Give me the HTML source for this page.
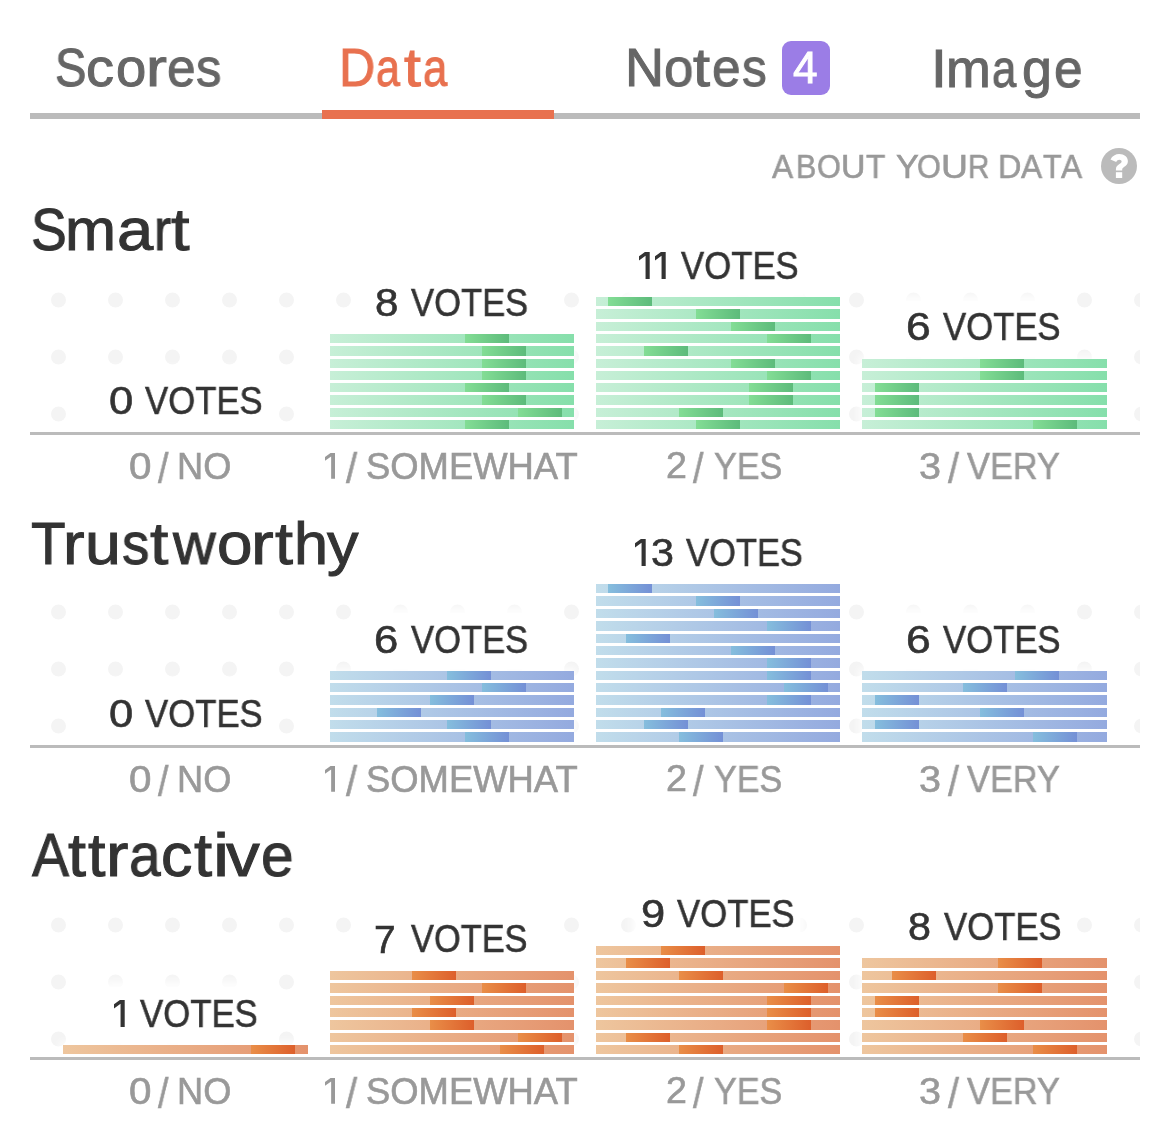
<!DOCTYPE html>
<html><head><meta charset="utf-8"><style>
html,body{margin:0;padding:0;background:#fff;}
body{width:1170px;height:1147px;position:relative;overflow:hidden;font-family:"Liberation Sans", sans-serif;}
.t{position:absolute;white-space:pre;transform-origin:0 0;will-change:transform;}
.r{position:absolute;}
</style></head>
<body>
<div class="t" style="left:54.62px;top:40.82px;font-size:53.77px;line-height:53.77px;color:#666666;transform:scaleX(0.8745);-webkit-text-stroke:1.0px currentColor;">S</div>
<div class="t" style="left:86.33px;top:40.82px;font-size:53.77px;line-height:53.77px;color:#666666;transform:scaleX(1.0424);-webkit-text-stroke:1.0px currentColor;">c</div>
<div class="t" style="left:116.40px;top:40.82px;font-size:53.77px;line-height:53.77px;color:#666666;transform:scaleX(1.0130);-webkit-text-stroke:1.0px currentColor;">o</div>
<div class="t" style="left:145.68px;top:40.82px;font-size:53.77px;line-height:53.77px;color:#666666;transform:scaleX(1.1680);-webkit-text-stroke:1.0px currentColor;">r</div>
<div class="t" style="left:167.22px;top:40.82px;font-size:53.77px;line-height:53.77px;color:#666666;transform:scaleX(0.9537);-webkit-text-stroke:1.0px currentColor;">e</div>
<div class="t" style="left:196.25px;top:40.82px;font-size:53.77px;line-height:53.77px;color:#666666;transform:scaleX(0.9429);-webkit-text-stroke:1.0px currentColor;">s</div>
<div class="t" style="left:338.66px;top:41.06px;font-size:53.77px;line-height:53.77px;color:#e8714f;transform:scaleX(0.9331);-webkit-text-stroke:1.0px currentColor;">D</div>
<div class="t" style="left:376.32px;top:41.06px;font-size:53.77px;line-height:53.77px;color:#e8714f;transform:scaleX(0.8000);-webkit-text-stroke:1.0px currentColor;">a</div>
<div class="t" style="left:404.36px;top:41.06px;font-size:53.77px;line-height:53.77px;color:#e8714f;transform:scaleX(1.1308);-webkit-text-stroke:1.0px currentColor;">t</div>
<div class="t" style="left:422.92px;top:41.06px;font-size:53.77px;line-height:53.77px;color:#e8714f;transform:scaleX(0.8155);-webkit-text-stroke:1.0px currentColor;">a</div>
<div class="t" style="left:624.65px;top:41.06px;font-size:53.77px;line-height:53.77px;color:#666666;transform:scaleX(1.0063);-webkit-text-stroke:1.0px currentColor;">N</div>
<div class="t" style="left:663.76px;top:41.06px;font-size:53.77px;line-height:53.77px;color:#666666;transform:scaleX(0.9814);-webkit-text-stroke:1.0px currentColor;">o</div>
<div class="t" style="left:693.35px;top:41.06px;font-size:53.77px;line-height:53.77px;color:#666666;transform:scaleX(1.1382);-webkit-text-stroke:1.0px currentColor;">t</div>
<div class="t" style="left:712.42px;top:41.06px;font-size:53.77px;line-height:53.77px;color:#666666;transform:scaleX(0.9537);-webkit-text-stroke:1.0px currentColor;">e</div>
<div class="t" style="left:742.39px;top:41.06px;font-size:53.77px;line-height:53.77px;color:#666666;transform:scaleX(0.9213);-webkit-text-stroke:1.0px currentColor;">s</div>
<div class="t" style="left:930.94px;top:41.68px;font-size:53.77px;line-height:53.77px;color:#666666;transform:scaleX(1.0601);-webkit-text-stroke:1.0px currentColor;">I</div>
<div class="t" style="left:946.01px;top:41.68px;font-size:53.77px;line-height:53.77px;color:#666666;transform:scaleX(0.9990);-webkit-text-stroke:1.0px currentColor;">m</div>
<div class="t" style="left:992.42px;top:41.68px;font-size:53.77px;line-height:53.77px;color:#666666;transform:scaleX(0.8155);-webkit-text-stroke:1.0px currentColor;">a</div>
<div class="t" style="left:1021.62px;top:41.68px;font-size:53.77px;line-height:53.77px;color:#666666;transform:scaleX(1.0002);-webkit-text-stroke:1.0px currentColor;">g</div>
<div class="t" style="left:1053.52px;top:41.68px;font-size:53.77px;line-height:53.77px;color:#666666;transform:scaleX(0.9537);-webkit-text-stroke:1.0px currentColor;">e</div>
<div class="r" style="left:782px;top:41px;width:48px;height:54px;border-radius:9px;background:#9b7de6"></div>
<div class="t" style="left:793.42px;top:45.79px;font-size:43.82px;line-height:43.82px;color:#ffffff;transform:scaleX(1.0067);-webkit-text-stroke:1.0px currentColor;">4</div>
<div class="r" style="left:30px;top:113px;width:1110px;height:6px;background:#bbbbbb"></div>
<div class="r" style="left:322px;top:110px;width:232px;height:9px;background:#e8714f"></div>
<div class="t" style="left:772.02px;top:150.33px;font-size:33.91px;line-height:33.91px;color:#999999;transform:scaleX(0.9338);-webkit-text-stroke:0.6px currentColor;">A</div>
<div class="t" style="left:795.59px;top:150.33px;font-size:33.91px;line-height:33.91px;color:#999999;transform:scaleX(0.8957);-webkit-text-stroke:0.6px currentColor;">B</div>
<div class="t" style="left:816.98px;top:150.33px;font-size:33.91px;line-height:33.91px;color:#999999;transform:scaleX(0.9063);-webkit-text-stroke:0.6px currentColor;">O</div>
<div class="t" style="left:841.12px;top:150.33px;font-size:33.91px;line-height:33.91px;color:#999999;transform:scaleX(0.9952);-webkit-text-stroke:0.6px currentColor;">U</div>
<div class="t" style="left:866.48px;top:150.33px;font-size:33.91px;line-height:33.91px;color:#999999;transform:scaleX(0.9363);-webkit-text-stroke:0.6px currentColor;">T</div>
<div class="t" style="left:896.05px;top:150.33px;font-size:33.91px;line-height:33.91px;color:#999999;transform:scaleX(1.0103);-webkit-text-stroke:0.6px currentColor;">Y</div>
<div class="t" style="left:917.34px;top:150.33px;font-size:33.91px;line-height:33.91px;color:#999999;transform:scaleX(0.9063);-webkit-text-stroke:0.6px currentColor;">O</div>
<div class="t" style="left:941.19px;top:150.33px;font-size:33.91px;line-height:33.91px;color:#999999;transform:scaleX(1.1005);-webkit-text-stroke:0.6px currentColor;">U</div>
<div class="t" style="left:967.81px;top:150.33px;font-size:33.91px;line-height:33.91px;color:#999999;transform:scaleX(0.8746);-webkit-text-stroke:0.6px currentColor;">R</div>
<div class="t" style="left:997.98px;top:150.33px;font-size:33.91px;line-height:33.91px;color:#999999;transform:scaleX(0.9546);-webkit-text-stroke:0.6px currentColor;">D</div>
<div class="t" style="left:1021.27px;top:150.33px;font-size:33.91px;line-height:33.91px;color:#999999;transform:scaleX(0.9338);-webkit-text-stroke:0.6px currentColor;">A</div>
<div class="t" style="left:1042.56px;top:150.33px;font-size:33.91px;line-height:33.91px;color:#999999;transform:scaleX(0.9053);-webkit-text-stroke:0.6px currentColor;">T</div>
<div class="t" style="left:1060.97px;top:150.33px;font-size:33.91px;line-height:33.91px;color:#999999;transform:scaleX(0.9338);-webkit-text-stroke:0.6px currentColor;">A</div>
<svg class="r" style="left:1101px;top:148px" width="36" height="36" viewBox="0 0 36 36"><circle cx="18" cy="18" r="18" fill="#bbbbbb"/><path d="M9.5 11.6 C11.2 8 14.6 6.1 18.3 6.1 C23.2 6.1 26.9 9 26.9 13.3 C26.9 16.4 25 17.8 23 19.1 C21.7 20 21.2 20.7 21.2 21.9 L21.2 22.6 L14.9 22.6 L14.9 21.4 C14.9 18.8 16.3 17.4 18.1 16.3 C19.6 15.4 20.6 14.8 20.6 13.6 C20.6 12.4 19.6 11.7 18.3 11.7 C17 11.7 15.9 12.5 15.2 13.9 Z" fill="#ffffff"/><rect x="14.9" y="24.2" width="6.3" height="5.8" fill="#ffffff"/></svg>
<div class="t" style="left:30.60px;top:200.40px;font-size:60.14px;line-height:60.14px;color:#333333;transform:scaleX(0.8897);-webkit-text-stroke:1.0px currentColor;">S</div>
<div class="t" style="left:64.88px;top:200.40px;font-size:60.14px;line-height:60.14px;color:#333333;transform:scaleX(1.0190);-webkit-text-stroke:1.0px currentColor;">m</div>
<div class="t" style="left:117.47px;top:200.40px;font-size:60.14px;line-height:60.14px;color:#333333;transform:scaleX(1.0839);-webkit-text-stroke:1.0px currentColor;">a</div>
<div class="t" style="left:153.86px;top:200.40px;font-size:60.14px;line-height:60.14px;color:#333333;transform:scaleX(0.8579);-webkit-text-stroke:1.0px currentColor;">r</div>
<div class="t" style="left:171.04px;top:200.40px;font-size:60.14px;line-height:60.14px;color:#333333;transform:scaleX(1.1107);-webkit-text-stroke:1.0px currentColor;">t</div>
<svg class="r" style="left:30px;top:292.20px" width="1110" height="130" viewBox="0 0 1110 130"><circle cx="28.5" cy="8" r="7.5" fill="#f4f4f4"/><circle cx="85.5" cy="8" r="7.5" fill="#f4f4f4"/><circle cx="142.5" cy="8" r="7.5" fill="#f4f4f4"/><circle cx="199.5" cy="8" r="7.5" fill="#f4f4f4"/><circle cx="256.5" cy="8" r="7.5" fill="#f4f4f4"/><circle cx="313.5" cy="8" r="7.5" fill="#f4f4f4"/><circle cx="370.5" cy="8" r="7.5" fill="#f4f4f4"/><circle cx="427.5" cy="8" r="7.5" fill="#f4f4f4"/><circle cx="484.5" cy="8" r="7.5" fill="#f4f4f4"/><circle cx="541.5" cy="8" r="7.5" fill="#f4f4f4"/><circle cx="598.5" cy="8" r="7.5" fill="#f4f4f4"/><circle cx="655.5" cy="8" r="7.5" fill="#f4f4f4"/><circle cx="712.5" cy="8" r="7.5" fill="#f4f4f4"/><circle cx="769.5" cy="8" r="7.5" fill="#f4f4f4"/><circle cx="826.5" cy="8" r="7.5" fill="#f4f4f4"/><circle cx="883.5" cy="8" r="7.5" fill="#f4f4f4"/><circle cx="940.5" cy="8" r="7.5" fill="#f4f4f4"/><circle cx="997.5" cy="8" r="7.5" fill="#f4f4f4"/><circle cx="1054.5" cy="8" r="7.5" fill="#f4f4f4"/><circle cx="1111.5" cy="8" r="7.5" fill="#f4f4f4"/><circle cx="28.5" cy="65" r="7.5" fill="#f4f4f4"/><circle cx="85.5" cy="65" r="7.5" fill="#f4f4f4"/><circle cx="142.5" cy="65" r="7.5" fill="#f4f4f4"/><circle cx="199.5" cy="65" r="7.5" fill="#f4f4f4"/><circle cx="256.5" cy="65" r="7.5" fill="#f4f4f4"/><circle cx="313.5" cy="65" r="7.5" fill="#f4f4f4"/><circle cx="370.5" cy="65" r="7.5" fill="#f4f4f4"/><circle cx="427.5" cy="65" r="7.5" fill="#f4f4f4"/><circle cx="484.5" cy="65" r="7.5" fill="#f4f4f4"/><circle cx="541.5" cy="65" r="7.5" fill="#f4f4f4"/><circle cx="598.5" cy="65" r="7.5" fill="#f4f4f4"/><circle cx="655.5" cy="65" r="7.5" fill="#f4f4f4"/><circle cx="712.5" cy="65" r="7.5" fill="#f4f4f4"/><circle cx="769.5" cy="65" r="7.5" fill="#f4f4f4"/><circle cx="826.5" cy="65" r="7.5" fill="#f4f4f4"/><circle cx="883.5" cy="65" r="7.5" fill="#f4f4f4"/><circle cx="940.5" cy="65" r="7.5" fill="#f4f4f4"/><circle cx="997.5" cy="65" r="7.5" fill="#f4f4f4"/><circle cx="1054.5" cy="65" r="7.5" fill="#f4f4f4"/><circle cx="1111.5" cy="65" r="7.5" fill="#f4f4f4"/><circle cx="28.5" cy="122" r="7.5" fill="#f4f4f4"/><circle cx="85.5" cy="122" r="7.5" fill="#f4f4f4"/><circle cx="142.5" cy="122" r="7.5" fill="#f4f4f4"/><circle cx="199.5" cy="122" r="7.5" fill="#f4f4f4"/><circle cx="256.5" cy="122" r="7.5" fill="#f4f4f4"/><circle cx="313.5" cy="122" r="7.5" fill="#f4f4f4"/><circle cx="370.5" cy="122" r="7.5" fill="#f4f4f4"/><circle cx="427.5" cy="122" r="7.5" fill="#f4f4f4"/><circle cx="484.5" cy="122" r="7.5" fill="#f4f4f4"/><circle cx="541.5" cy="122" r="7.5" fill="#f4f4f4"/><circle cx="598.5" cy="122" r="7.5" fill="#f4f4f4"/><circle cx="655.5" cy="122" r="7.5" fill="#f4f4f4"/><circle cx="712.5" cy="122" r="7.5" fill="#f4f4f4"/><circle cx="769.5" cy="122" r="7.5" fill="#f4f4f4"/><circle cx="826.5" cy="122" r="7.5" fill="#f4f4f4"/><circle cx="883.5" cy="122" r="7.5" fill="#f4f4f4"/><circle cx="940.5" cy="122" r="7.5" fill="#f4f4f4"/><circle cx="997.5" cy="122" r="7.5" fill="#f4f4f4"/><circle cx="1054.5" cy="122" r="7.5" fill="#f4f4f4"/><circle cx="1111.5" cy="122" r="7.5" fill="#f4f4f4"/></svg>
<div class="r" style="left:104.00px;top:374.30px;width:162.80px;height:56.20px;background:#fff;box-shadow:0 0 10px 5px #fff"></div>
<div class="r" style="left:370.20px;top:276.20px;width:162.30px;height:56.20px;background:#fff;box-shadow:0 0 10px 5px #fff"></div>
<div class="r" style="left:632.00px;top:239.30px;width:170.90px;height:56.20px;background:#fff;box-shadow:0 0 10px 5px #fff"></div>
<div class="r" style="left:902.70px;top:300.80px;width:163.00px;height:56.20px;background:#fff;box-shadow:0 0 10px 5px #fff"></div>
<div class="t" style="left:108.91px;top:381.61px;font-size:38.87px;line-height:38.87px;color:#333333;transform:scaleX(1.1201);-webkit-text-stroke:0.6px currentColor;">0</div>
<div class="t" style="left:144.97px;top:381.61px;font-size:38.87px;line-height:38.87px;color:#333333;transform:scaleX(0.8930);-webkit-text-stroke:0.6px currentColor;">VOTES</div>
<div class="r" style="left:330px;top:333.90px;width:244px;height:95.50px;background:#fff;box-shadow:0 0 8px 3px rgba(255,255,255,0.9)"></div>
<div class="r" style="left:330px;top:333.90px;width:244px;height:9.4px;background:linear-gradient(90deg,#c7efd7,#86dfab)"><div class="r" style="left:134.89px;top:0;width:44px;height:100%;background:linear-gradient(90deg,#83dd95,#5dbb7b)"></div></div>
<div class="r" style="left:330px;top:346.20px;width:244px;height:9.4px;background:linear-gradient(90deg,#c7efd7,#86dfab)"><div class="r" style="left:152.46px;top:0;width:44px;height:100%;background:linear-gradient(90deg,#83dd95,#5dbb7b)"></div></div>
<div class="r" style="left:330px;top:358.50px;width:244px;height:9.4px;background:linear-gradient(90deg,#c7efd7,#86dfab)"><div class="r" style="left:152.46px;top:0;width:44px;height:100%;background:linear-gradient(90deg,#83dd95,#5dbb7b)"></div></div>
<div class="r" style="left:330px;top:370.80px;width:244px;height:9.4px;background:linear-gradient(90deg,#c7efd7,#86dfab)"><div class="r" style="left:152.46px;top:0;width:44px;height:100%;background:linear-gradient(90deg,#83dd95,#5dbb7b)"></div></div>
<div class="r" style="left:330px;top:383.10px;width:244px;height:9.4px;background:linear-gradient(90deg,#c7efd7,#86dfab)"><div class="r" style="left:134.89px;top:0;width:44px;height:100%;background:linear-gradient(90deg,#83dd95,#5dbb7b)"></div></div>
<div class="r" style="left:330px;top:395.40px;width:244px;height:9.4px;background:linear-gradient(90deg,#c7efd7,#86dfab)"><div class="r" style="left:152.46px;top:0;width:44px;height:100%;background:linear-gradient(90deg,#83dd95,#5dbb7b)"></div></div>
<div class="r" style="left:330px;top:407.70px;width:244px;height:9.4px;background:linear-gradient(90deg,#c7efd7,#86dfab)"><div class="r" style="left:187.60px;top:0;width:44px;height:100%;background:linear-gradient(90deg,#83dd95,#5dbb7b)"></div></div>
<div class="r" style="left:330px;top:420.00px;width:244px;height:9.4px;background:linear-gradient(90deg,#c7efd7,#86dfab)"><div class="r" style="left:134.89px;top:0;width:44px;height:100%;background:linear-gradient(90deg,#83dd95,#5dbb7b)"></div></div>
<div class="t" style="left:374.95px;top:284.03px;font-size:38.87px;line-height:38.87px;color:#333333;transform:scaleX(1.0837);-webkit-text-stroke:0.6px currentColor;">8</div>
<div class="t" style="left:410.54px;top:284.03px;font-size:38.87px;line-height:38.87px;color:#333333;transform:scaleX(0.8892);-webkit-text-stroke:0.6px currentColor;">VOTES</div>
<div class="r" style="left:596px;top:297.00px;width:244px;height:132.40px;background:#fff;box-shadow:0 0 8px 3px rgba(255,255,255,0.9)"></div>
<div class="r" style="left:596px;top:297.00px;width:244px;height:9.4px;background:linear-gradient(90deg,#c7efd7,#86dfab)"><div class="r" style="left:12.40px;top:0;width:44px;height:100%;background:linear-gradient(90deg,#83dd95,#5dbb7b)"></div></div>
<div class="r" style="left:596px;top:309.30px;width:244px;height:9.4px;background:linear-gradient(90deg,#c7efd7,#86dfab)"><div class="r" style="left:100.25px;top:0;width:44px;height:100%;background:linear-gradient(90deg,#83dd95,#5dbb7b)"></div></div>
<div class="r" style="left:596px;top:321.60px;width:244px;height:9.4px;background:linear-gradient(90deg,#c7efd7,#86dfab)"><div class="r" style="left:135.39px;top:0;width:44px;height:100%;background:linear-gradient(90deg,#83dd95,#5dbb7b)"></div></div>
<div class="r" style="left:596px;top:333.90px;width:244px;height:9.4px;background:linear-gradient(90deg,#c7efd7,#86dfab)"><div class="r" style="left:170.53px;top:0;width:44px;height:100%;background:linear-gradient(90deg,#83dd95,#5dbb7b)"></div></div>
<div class="r" style="left:596px;top:346.20px;width:244px;height:9.4px;background:linear-gradient(90deg,#c7efd7,#86dfab)"><div class="r" style="left:47.54px;top:0;width:44px;height:100%;background:linear-gradient(90deg,#83dd95,#5dbb7b)"></div></div>
<div class="r" style="left:596px;top:358.50px;width:244px;height:9.4px;background:linear-gradient(90deg,#c7efd7,#86dfab)"><div class="r" style="left:135.39px;top:0;width:44px;height:100%;background:linear-gradient(90deg,#83dd95,#5dbb7b)"></div></div>
<div class="r" style="left:596px;top:370.80px;width:244px;height:9.4px;background:linear-gradient(90deg,#c7efd7,#86dfab)"><div class="r" style="left:170.53px;top:0;width:44px;height:100%;background:linear-gradient(90deg,#83dd95,#5dbb7b)"></div></div>
<div class="r" style="left:596px;top:383.10px;width:244px;height:9.4px;background:linear-gradient(90deg,#c7efd7,#86dfab)"><div class="r" style="left:152.96px;top:0;width:44px;height:100%;background:linear-gradient(90deg,#83dd95,#5dbb7b)"></div></div>
<div class="r" style="left:596px;top:395.40px;width:244px;height:9.4px;background:linear-gradient(90deg,#c7efd7,#86dfab)"><div class="r" style="left:152.96px;top:0;width:44px;height:100%;background:linear-gradient(90deg,#83dd95,#5dbb7b)"></div></div>
<div class="r" style="left:596px;top:407.70px;width:244px;height:9.4px;background:linear-gradient(90deg,#c7efd7,#86dfab)"><div class="r" style="left:82.68px;top:0;width:44px;height:100%;background:linear-gradient(90deg,#83dd95,#5dbb7b)"></div></div>
<div class="r" style="left:596px;top:420.00px;width:244px;height:9.4px;background:linear-gradient(90deg,#c7efd7,#86dfab)"><div class="r" style="left:100.25px;top:0;width:44px;height:100%;background:linear-gradient(90deg,#83dd95,#5dbb7b)"></div></div>
<svg class="r" style="left:639.00px;top:251.50px" width="10.71" height="27.40" viewBox="0 0 11.1 28.4" preserveAspectRatio="none"><path d="M6.1 0 H11.1 V28.4 H6.8 V3.9 L0 8.7 V4.5 Z" fill="#333333"/></svg>
<svg class="r" style="left:655.00px;top:251.50px" width="10.71" height="27.40" viewBox="0 0 11.1 28.4" preserveAspectRatio="none"><path d="M6.1 0 H11.1 V28.4 H6.8 V3.9 L0 8.7 V4.5 Z" fill="#333333"/></svg>
<div class="t" style="left:680.93px;top:246.96px;font-size:38.87px;line-height:38.87px;color:#333333;transform:scaleX(0.8930);-webkit-text-stroke:0.6px currentColor;">VOTES</div>
<div class="r" style="left:862px;top:358.50px;width:245px;height:70.90px;background:#fff;box-shadow:0 0 8px 3px rgba(255,255,255,0.9)"></div>
<div class="r" style="left:862px;top:358.50px;width:245px;height:9.4px;background:linear-gradient(90deg,#c7efd7,#86dfab)"><div class="r" style="left:118.32px;top:0;width:44px;height:100%;background:linear-gradient(90deg,#83dd95,#5dbb7b)"></div></div>
<div class="r" style="left:862px;top:370.80px;width:245px;height:9.4px;background:linear-gradient(90deg,#c7efd7,#86dfab)"><div class="r" style="left:118.32px;top:0;width:44px;height:100%;background:linear-gradient(90deg,#83dd95,#5dbb7b)"></div></div>
<div class="r" style="left:862px;top:383.10px;width:245px;height:9.4px;background:linear-gradient(90deg,#c7efd7,#86dfab)"><div class="r" style="left:12.90px;top:0;width:44px;height:100%;background:linear-gradient(90deg,#83dd95,#5dbb7b)"></div></div>
<div class="r" style="left:862px;top:395.40px;width:245px;height:9.4px;background:linear-gradient(90deg,#c7efd7,#86dfab)"><div class="r" style="left:12.90px;top:0;width:44px;height:100%;background:linear-gradient(90deg,#83dd95,#5dbb7b)"></div></div>
<div class="r" style="left:862px;top:407.70px;width:245px;height:9.4px;background:linear-gradient(90deg,#c7efd7,#86dfab)"><div class="r" style="left:12.90px;top:0;width:44px;height:100%;background:linear-gradient(90deg,#83dd95,#5dbb7b)"></div></div>
<div class="r" style="left:862px;top:420.00px;width:245px;height:9.4px;background:linear-gradient(90deg,#c7efd7,#86dfab)"><div class="r" style="left:171.03px;top:0;width:44px;height:100%;background:linear-gradient(90deg,#83dd95,#5dbb7b)"></div></div>
<div class="t" style="left:906.42px;top:308.28px;font-size:38.87px;line-height:38.87px;color:#333333;transform:scaleX(1.1464);-webkit-text-stroke:0.6px currentColor;">6</div>
<div class="t" style="left:943.34px;top:308.28px;font-size:38.87px;line-height:38.87px;color:#333333;transform:scaleX(0.8923);-webkit-text-stroke:0.6px currentColor;">VOTES</div>
<div class="r" style="left:30px;top:432px;width:1110px;height:3px;background:#bbbbbb"></div>
<div class="t" style="left:128.76px;top:448.52px;font-size:36.20px;line-height:36.20px;color:#999999;transform:scaleX(1.1166);-webkit-text-stroke:0.6px currentColor;">0</div>
<div class="t" style="left:157.61px;top:447.90px;font-size:42.19px;line-height:42.19px;color:#999999;transform:scaleX(0.8888);-webkit-text-stroke:0.6px currentColor;">/</div>
<div class="t" style="left:177.42px;top:448.52px;font-size:36.20px;line-height:36.20px;color:#999999;transform:scaleX(0.9962);-webkit-text-stroke:0.6px currentColor;">NO</div>
<svg class="r" style="left:325.00px;top:452.90px" width="10.04" height="25.70" viewBox="0 0 11.1 28.4" preserveAspectRatio="none"><path d="M6.1 0 H11.1 V28.4 H6.8 V3.9 L0 8.7 V4.5 Z" fill="#999999"/></svg>
<div class="t" style="left:345.90px;top:447.90px;font-size:42.19px;line-height:42.19px;color:#999999;transform:scaleX(0.9481);-webkit-text-stroke:0.6px currentColor;">/</div>
<div class="t" style="left:365.76px;top:448.52px;font-size:36.20px;line-height:36.20px;color:#999999;transform:scaleX(1.0059);-webkit-text-stroke:0.6px currentColor;">SOMEWHAT</div>
<div class="t" style="left:665.73px;top:448.34px;font-size:36.20px;line-height:36.20px;color:#999999;transform:scaleX(1.0390);-webkit-text-stroke:0.6px currentColor;">2</div>
<div class="t" style="left:693.23px;top:447.90px;font-size:42.19px;line-height:42.19px;color:#999999;transform:scaleX(0.8888);-webkit-text-stroke:0.6px currentColor;">/</div>
<div class="t" style="left:713.62px;top:448.52px;font-size:36.20px;line-height:36.20px;color:#999999;transform:scaleX(0.9419);-webkit-text-stroke:0.6px currentColor;">YES</div>
<div class="t" style="left:918.66px;top:448.52px;font-size:36.20px;line-height:36.20px;color:#999999;transform:scaleX(1.0933);-webkit-text-stroke:0.6px currentColor;">3</div>
<div class="t" style="left:948.04px;top:447.90px;font-size:42.19px;line-height:42.19px;color:#999999;transform:scaleX(0.9311);-webkit-text-stroke:0.6px currentColor;">/</div>
<div class="t" style="left:967.29px;top:448.52px;font-size:36.20px;line-height:36.20px;color:#999999;transform:scaleX(0.9488);-webkit-text-stroke:0.6px currentColor;">VERY</div>
<div class="t" style="left:31.42px;top:513.64px;font-size:60.14px;line-height:60.14px;color:#333333;transform:scaleX(0.9393);-webkit-text-stroke:1.0px currentColor;">T</div>
<div class="t" style="left:62.91px;top:513.64px;font-size:60.14px;line-height:60.14px;color:#333333;transform:scaleX(1.0774);-webkit-text-stroke:1.0px currentColor;">r</div>
<div class="t" style="left:84.73px;top:513.64px;font-size:60.14px;line-height:60.14px;color:#333333;transform:scaleX(1.0728);-webkit-text-stroke:1.0px currentColor;">u</div>
<div class="t" style="left:121.71px;top:513.64px;font-size:60.14px;line-height:60.14px;color:#333333;transform:scaleX(0.9087);-webkit-text-stroke:1.0px currentColor;">s</div>
<div class="t" style="left:150.43px;top:513.64px;font-size:60.14px;line-height:60.14px;color:#333333;transform:scaleX(1.0973);-webkit-text-stroke:1.0px currentColor;">t</div>
<div class="t" style="left:173.35px;top:513.64px;font-size:60.14px;line-height:60.14px;color:#333333;transform:scaleX(0.9837);-webkit-text-stroke:1.0px currentColor;">w</div>
<div class="t" style="left:216.70px;top:513.64px;font-size:60.14px;line-height:60.14px;color:#333333;transform:scaleX(1.0613);-webkit-text-stroke:1.0px currentColor;">o</div>
<div class="t" style="left:251.49px;top:513.64px;font-size:60.14px;line-height:60.14px;color:#333333;transform:scaleX(1.1306);-webkit-text-stroke:1.0px currentColor;">r</div>
<div class="t" style="left:274.65px;top:513.64px;font-size:60.14px;line-height:60.14px;color:#333333;transform:scaleX(1.0774);-webkit-text-stroke:1.0px currentColor;">t</div>
<div class="t" style="left:294.17px;top:513.64px;font-size:60.14px;line-height:60.14px;color:#333333;transform:scaleX(1.0174);-webkit-text-stroke:1.0px currentColor;">h</div>
<div class="t" style="left:326.75px;top:513.64px;font-size:60.14px;line-height:60.14px;color:#333333;transform:scaleX(1.0475);-webkit-text-stroke:1.0px currentColor;">y</div>
<svg class="r" style="left:30px;top:604.20px" width="1110" height="130" viewBox="0 0 1110 130"><circle cx="28.5" cy="8" r="7.5" fill="#f4f4f4"/><circle cx="85.5" cy="8" r="7.5" fill="#f4f4f4"/><circle cx="142.5" cy="8" r="7.5" fill="#f4f4f4"/><circle cx="199.5" cy="8" r="7.5" fill="#f4f4f4"/><circle cx="256.5" cy="8" r="7.5" fill="#f4f4f4"/><circle cx="313.5" cy="8" r="7.5" fill="#f4f4f4"/><circle cx="370.5" cy="8" r="7.5" fill="#f4f4f4"/><circle cx="427.5" cy="8" r="7.5" fill="#f4f4f4"/><circle cx="484.5" cy="8" r="7.5" fill="#f4f4f4"/><circle cx="541.5" cy="8" r="7.5" fill="#f4f4f4"/><circle cx="598.5" cy="8" r="7.5" fill="#f4f4f4"/><circle cx="655.5" cy="8" r="7.5" fill="#f4f4f4"/><circle cx="712.5" cy="8" r="7.5" fill="#f4f4f4"/><circle cx="769.5" cy="8" r="7.5" fill="#f4f4f4"/><circle cx="826.5" cy="8" r="7.5" fill="#f4f4f4"/><circle cx="883.5" cy="8" r="7.5" fill="#f4f4f4"/><circle cx="940.5" cy="8" r="7.5" fill="#f4f4f4"/><circle cx="997.5" cy="8" r="7.5" fill="#f4f4f4"/><circle cx="1054.5" cy="8" r="7.5" fill="#f4f4f4"/><circle cx="1111.5" cy="8" r="7.5" fill="#f4f4f4"/><circle cx="28.5" cy="65" r="7.5" fill="#f4f4f4"/><circle cx="85.5" cy="65" r="7.5" fill="#f4f4f4"/><circle cx="142.5" cy="65" r="7.5" fill="#f4f4f4"/><circle cx="199.5" cy="65" r="7.5" fill="#f4f4f4"/><circle cx="256.5" cy="65" r="7.5" fill="#f4f4f4"/><circle cx="313.5" cy="65" r="7.5" fill="#f4f4f4"/><circle cx="370.5" cy="65" r="7.5" fill="#f4f4f4"/><circle cx="427.5" cy="65" r="7.5" fill="#f4f4f4"/><circle cx="484.5" cy="65" r="7.5" fill="#f4f4f4"/><circle cx="541.5" cy="65" r="7.5" fill="#f4f4f4"/><circle cx="598.5" cy="65" r="7.5" fill="#f4f4f4"/><circle cx="655.5" cy="65" r="7.5" fill="#f4f4f4"/><circle cx="712.5" cy="65" r="7.5" fill="#f4f4f4"/><circle cx="769.5" cy="65" r="7.5" fill="#f4f4f4"/><circle cx="826.5" cy="65" r="7.5" fill="#f4f4f4"/><circle cx="883.5" cy="65" r="7.5" fill="#f4f4f4"/><circle cx="940.5" cy="65" r="7.5" fill="#f4f4f4"/><circle cx="997.5" cy="65" r="7.5" fill="#f4f4f4"/><circle cx="1054.5" cy="65" r="7.5" fill="#f4f4f4"/><circle cx="1111.5" cy="65" r="7.5" fill="#f4f4f4"/><circle cx="28.5" cy="122" r="7.5" fill="#f4f4f4"/><circle cx="85.5" cy="122" r="7.5" fill="#f4f4f4"/><circle cx="142.5" cy="122" r="7.5" fill="#f4f4f4"/><circle cx="199.5" cy="122" r="7.5" fill="#f4f4f4"/><circle cx="256.5" cy="122" r="7.5" fill="#f4f4f4"/><circle cx="313.5" cy="122" r="7.5" fill="#f4f4f4"/><circle cx="370.5" cy="122" r="7.5" fill="#f4f4f4"/><circle cx="427.5" cy="122" r="7.5" fill="#f4f4f4"/><circle cx="484.5" cy="122" r="7.5" fill="#f4f4f4"/><circle cx="541.5" cy="122" r="7.5" fill="#f4f4f4"/><circle cx="598.5" cy="122" r="7.5" fill="#f4f4f4"/><circle cx="655.5" cy="122" r="7.5" fill="#f4f4f4"/><circle cx="712.5" cy="122" r="7.5" fill="#f4f4f4"/><circle cx="769.5" cy="122" r="7.5" fill="#f4f4f4"/><circle cx="826.5" cy="122" r="7.5" fill="#f4f4f4"/><circle cx="883.5" cy="122" r="7.5" fill="#f4f4f4"/><circle cx="940.5" cy="122" r="7.5" fill="#f4f4f4"/><circle cx="997.5" cy="122" r="7.5" fill="#f4f4f4"/><circle cx="1054.5" cy="122" r="7.5" fill="#f4f4f4"/><circle cx="1111.5" cy="122" r="7.5" fill="#f4f4f4"/></svg>
<div class="r" style="left:104.00px;top:687.30px;width:162.80px;height:56.20px;background:#fff;box-shadow:0 0 10px 5px #fff"></div>
<div class="r" style="left:370.20px;top:612.85px;width:162.30px;height:56.20px;background:#fff;box-shadow:0 0 10px 5px #fff"></div>
<div class="r" style="left:629.00px;top:526.40px;width:178.20px;height:56.20px;background:#fff;box-shadow:0 0 10px 5px #fff"></div>
<div class="r" style="left:902.70px;top:612.85px;width:163.00px;height:56.20px;background:#fff;box-shadow:0 0 10px 5px #fff"></div>
<div class="t" style="left:108.91px;top:694.61px;font-size:38.87px;line-height:38.87px;color:#333333;transform:scaleX(1.1201);-webkit-text-stroke:0.6px currentColor;">0</div>
<div class="t" style="left:144.97px;top:694.61px;font-size:38.87px;line-height:38.87px;color:#333333;transform:scaleX(0.8930);-webkit-text-stroke:0.6px currentColor;">VOTES</div>
<div class="r" style="left:330px;top:670.55px;width:244px;height:71.15px;background:#fff;box-shadow:0 0 8px 3px rgba(255,255,255,0.9)"></div>
<div class="r" style="left:330px;top:670.55px;width:244px;height:9.4px;background:linear-gradient(90deg,#c1ddeb,#94aadf)"><div class="r" style="left:117.32px;top:0;width:44px;height:100%;background:linear-gradient(90deg,#85bedd,#7490d6)"></div></div>
<div class="r" style="left:330px;top:682.90px;width:244px;height:9.4px;background:linear-gradient(90deg,#c1ddeb,#94aadf)"><div class="r" style="left:152.46px;top:0;width:44px;height:100%;background:linear-gradient(90deg,#85bedd,#7490d6)"></div></div>
<div class="r" style="left:330px;top:695.25px;width:244px;height:9.4px;background:linear-gradient(90deg,#c1ddeb,#94aadf)"><div class="r" style="left:99.75px;top:0;width:44px;height:100%;background:linear-gradient(90deg,#85bedd,#7490d6)"></div></div>
<div class="r" style="left:330px;top:707.60px;width:244px;height:9.4px;background:linear-gradient(90deg,#c1ddeb,#94aadf)"><div class="r" style="left:47.04px;top:0;width:44px;height:100%;background:linear-gradient(90deg,#85bedd,#7490d6)"></div></div>
<div class="r" style="left:330px;top:719.95px;width:244px;height:9.4px;background:linear-gradient(90deg,#c1ddeb,#94aadf)"><div class="r" style="left:117.32px;top:0;width:44px;height:100%;background:linear-gradient(90deg,#85bedd,#7490d6)"></div></div>
<div class="r" style="left:330px;top:732.30px;width:244px;height:9.4px;background:linear-gradient(90deg,#c1ddeb,#94aadf)"><div class="r" style="left:134.89px;top:0;width:44px;height:100%;background:linear-gradient(90deg,#85bedd,#7490d6)"></div></div>
<div class="t" style="left:374.25px;top:620.79px;font-size:38.87px;line-height:38.87px;color:#333333;transform:scaleX(1.1241);-webkit-text-stroke:0.6px currentColor;">6</div>
<div class="t" style="left:410.54px;top:620.79px;font-size:38.87px;line-height:38.87px;color:#333333;transform:scaleX(0.8892);-webkit-text-stroke:0.6px currentColor;">VOTES</div>
<div class="r" style="left:596px;top:584.10px;width:244px;height:157.60px;background:#fff;box-shadow:0 0 8px 3px rgba(255,255,255,0.9)"></div>
<div class="r" style="left:596px;top:584.10px;width:244px;height:9.4px;background:linear-gradient(90deg,#c1ddeb,#94aadf)"><div class="r" style="left:12.40px;top:0;width:44px;height:100%;background:linear-gradient(90deg,#85bedd,#7490d6)"></div></div>
<div class="r" style="left:596px;top:596.45px;width:244px;height:9.4px;background:linear-gradient(90deg,#c1ddeb,#94aadf)"><div class="r" style="left:100.25px;top:0;width:44px;height:100%;background:linear-gradient(90deg,#85bedd,#7490d6)"></div></div>
<div class="r" style="left:596px;top:608.80px;width:244px;height:9.4px;background:linear-gradient(90deg,#c1ddeb,#94aadf)"><div class="r" style="left:117.82px;top:0;width:44px;height:100%;background:linear-gradient(90deg,#85bedd,#7490d6)"></div></div>
<div class="r" style="left:596px;top:621.15px;width:244px;height:9.4px;background:linear-gradient(90deg,#c1ddeb,#94aadf)"><div class="r" style="left:170.53px;top:0;width:44px;height:100%;background:linear-gradient(90deg,#85bedd,#7490d6)"></div></div>
<div class="r" style="left:596px;top:633.50px;width:244px;height:9.4px;background:linear-gradient(90deg,#c1ddeb,#94aadf)"><div class="r" style="left:29.97px;top:0;width:44px;height:100%;background:linear-gradient(90deg,#85bedd,#7490d6)"></div></div>
<div class="r" style="left:596px;top:645.85px;width:244px;height:9.4px;background:linear-gradient(90deg,#c1ddeb,#94aadf)"><div class="r" style="left:135.39px;top:0;width:44px;height:100%;background:linear-gradient(90deg,#85bedd,#7490d6)"></div></div>
<div class="r" style="left:596px;top:658.20px;width:244px;height:9.4px;background:linear-gradient(90deg,#c1ddeb,#94aadf)"><div class="r" style="left:170.53px;top:0;width:44px;height:100%;background:linear-gradient(90deg,#85bedd,#7490d6)"></div></div>
<div class="r" style="left:596px;top:670.55px;width:244px;height:9.4px;background:linear-gradient(90deg,#c1ddeb,#94aadf)"><div class="r" style="left:170.53px;top:0;width:44px;height:100%;background:linear-gradient(90deg,#85bedd,#7490d6)"></div></div>
<div class="r" style="left:596px;top:682.90px;width:244px;height:9.4px;background:linear-gradient(90deg,#c1ddeb,#94aadf)"><div class="r" style="left:188.10px;top:0;width:44px;height:100%;background:linear-gradient(90deg,#85bedd,#7490d6)"></div></div>
<div class="r" style="left:596px;top:695.25px;width:244px;height:9.4px;background:linear-gradient(90deg,#c1ddeb,#94aadf)"><div class="r" style="left:170.53px;top:0;width:44px;height:100%;background:linear-gradient(90deg,#85bedd,#7490d6)"></div></div>
<div class="r" style="left:596px;top:707.60px;width:244px;height:9.4px;background:linear-gradient(90deg,#c1ddeb,#94aadf)"><div class="r" style="left:65.11px;top:0;width:44px;height:100%;background:linear-gradient(90deg,#85bedd,#7490d6)"></div></div>
<div class="r" style="left:596px;top:719.95px;width:244px;height:9.4px;background:linear-gradient(90deg,#c1ddeb,#94aadf)"><div class="r" style="left:47.54px;top:0;width:44px;height:100%;background:linear-gradient(90deg,#85bedd,#7490d6)"></div></div>
<div class="r" style="left:596px;top:732.30px;width:244px;height:9.4px;background:linear-gradient(90deg,#c1ddeb,#94aadf)"><div class="r" style="left:82.68px;top:0;width:44px;height:100%;background:linear-gradient(90deg,#85bedd,#7490d6)"></div></div>
<svg class="r" style="left:634.90px;top:538.60px" width="10.71" height="27.40" viewBox="0 0 11.1 28.4" preserveAspectRatio="none"><path d="M6.1 0 H11.1 V28.4 H6.8 V3.9 L0 8.7 V4.5 Z" fill="#333333"/></svg>
<div class="t" style="left:650.51px;top:533.57px;font-size:38.87px;line-height:38.87px;color:#333333;transform:scaleX(1.0618);-webkit-text-stroke:0.6px currentColor;">3</div>
<div class="t" style="left:685.76px;top:533.78px;font-size:38.87px;line-height:38.87px;color:#333333;transform:scaleX(0.8868);-webkit-text-stroke:0.6px currentColor;">VOTES</div>
<div class="r" style="left:862px;top:670.55px;width:245px;height:71.15px;background:#fff;box-shadow:0 0 8px 3px rgba(255,255,255,0.9)"></div>
<div class="r" style="left:862px;top:670.55px;width:245px;height:9.4px;background:linear-gradient(90deg,#c1ddeb,#94aadf)"><div class="r" style="left:153.46px;top:0;width:44px;height:100%;background:linear-gradient(90deg,#85bedd,#7490d6)"></div></div>
<div class="r" style="left:862px;top:682.90px;width:245px;height:9.4px;background:linear-gradient(90deg,#c1ddeb,#94aadf)"><div class="r" style="left:100.75px;top:0;width:44px;height:100%;background:linear-gradient(90deg,#85bedd,#7490d6)"></div></div>
<div class="r" style="left:862px;top:695.25px;width:245px;height:9.4px;background:linear-gradient(90deg,#c1ddeb,#94aadf)"><div class="r" style="left:12.90px;top:0;width:44px;height:100%;background:linear-gradient(90deg,#85bedd,#7490d6)"></div></div>
<div class="r" style="left:862px;top:707.60px;width:245px;height:9.4px;background:linear-gradient(90deg,#c1ddeb,#94aadf)"><div class="r" style="left:118.32px;top:0;width:44px;height:100%;background:linear-gradient(90deg,#85bedd,#7490d6)"></div></div>
<div class="r" style="left:862px;top:719.95px;width:245px;height:9.4px;background:linear-gradient(90deg,#c1ddeb,#94aadf)"><div class="r" style="left:12.90px;top:0;width:44px;height:100%;background:linear-gradient(90deg,#85bedd,#7490d6)"></div></div>
<div class="r" style="left:862px;top:732.30px;width:245px;height:9.4px;background:linear-gradient(90deg,#c1ddeb,#94aadf)"><div class="r" style="left:171.03px;top:0;width:44px;height:100%;background:linear-gradient(90deg,#85bedd,#7490d6)"></div></div>
<div class="t" style="left:906.42px;top:620.79px;font-size:38.87px;line-height:38.87px;color:#333333;transform:scaleX(1.1464);-webkit-text-stroke:0.6px currentColor;">6</div>
<div class="t" style="left:943.34px;top:620.79px;font-size:38.87px;line-height:38.87px;color:#333333;transform:scaleX(0.8923);-webkit-text-stroke:0.6px currentColor;">VOTES</div>
<div class="r" style="left:30px;top:745px;width:1110px;height:3px;background:#bbbbbb"></div>
<div class="t" style="left:128.76px;top:761.52px;font-size:36.20px;line-height:36.20px;color:#999999;transform:scaleX(1.1166);-webkit-text-stroke:0.6px currentColor;">0</div>
<div class="t" style="left:157.61px;top:760.90px;font-size:42.19px;line-height:42.19px;color:#999999;transform:scaleX(0.8888);-webkit-text-stroke:0.6px currentColor;">/</div>
<div class="t" style="left:177.42px;top:761.52px;font-size:36.20px;line-height:36.20px;color:#999999;transform:scaleX(0.9962);-webkit-text-stroke:0.6px currentColor;">NO</div>
<svg class="r" style="left:325.00px;top:765.90px" width="10.04" height="25.70" viewBox="0 0 11.1 28.4" preserveAspectRatio="none"><path d="M6.1 0 H11.1 V28.4 H6.8 V3.9 L0 8.7 V4.5 Z" fill="#999999"/></svg>
<div class="t" style="left:345.90px;top:760.90px;font-size:42.19px;line-height:42.19px;color:#999999;transform:scaleX(0.9481);-webkit-text-stroke:0.6px currentColor;">/</div>
<div class="t" style="left:365.76px;top:761.52px;font-size:36.20px;line-height:36.20px;color:#999999;transform:scaleX(1.0059);-webkit-text-stroke:0.6px currentColor;">SOMEWHAT</div>
<div class="t" style="left:665.73px;top:761.34px;font-size:36.20px;line-height:36.20px;color:#999999;transform:scaleX(1.0390);-webkit-text-stroke:0.6px currentColor;">2</div>
<div class="t" style="left:693.23px;top:760.90px;font-size:42.19px;line-height:42.19px;color:#999999;transform:scaleX(0.8888);-webkit-text-stroke:0.6px currentColor;">/</div>
<div class="t" style="left:713.62px;top:761.52px;font-size:36.20px;line-height:36.20px;color:#999999;transform:scaleX(0.9419);-webkit-text-stroke:0.6px currentColor;">YES</div>
<div class="t" style="left:918.66px;top:761.52px;font-size:36.20px;line-height:36.20px;color:#999999;transform:scaleX(1.0933);-webkit-text-stroke:0.6px currentColor;">3</div>
<div class="t" style="left:948.04px;top:760.90px;font-size:42.19px;line-height:42.19px;color:#999999;transform:scaleX(0.9311);-webkit-text-stroke:0.6px currentColor;">/</div>
<div class="t" style="left:967.29px;top:761.52px;font-size:36.20px;line-height:36.20px;color:#999999;transform:scaleX(0.9488);-webkit-text-stroke:0.6px currentColor;">VERY</div>
<div class="t" style="left:31.85px;top:825.48px;font-size:60.43px;line-height:60.43px;color:#333333;transform:scaleX(0.9176);-webkit-text-stroke:1.0px currentColor;">A</div>
<div class="t" style="left:68.25px;top:825.48px;font-size:60.43px;line-height:60.43px;color:#333333;transform:scaleX(1.0722);-webkit-text-stroke:1.0px currentColor;">t</div>
<div class="t" style="left:87.99px;top:825.48px;font-size:60.43px;line-height:60.43px;color:#333333;transform:scaleX(1.0391);-webkit-text-stroke:1.0px currentColor;">t</div>
<div class="t" style="left:106.15px;top:825.48px;font-size:60.43px;line-height:60.43px;color:#333333;transform:scaleX(1.1119);-webkit-text-stroke:1.0px currentColor;">r</div>
<div class="t" style="left:128.87px;top:825.48px;font-size:60.43px;line-height:60.43px;color:#333333;transform:scaleX(0.9419);-webkit-text-stroke:1.0px currentColor;">a</div>
<div class="t" style="left:161.34px;top:825.48px;font-size:60.43px;line-height:60.43px;color:#333333;transform:scaleX(1.0390);-webkit-text-stroke:1.0px currentColor;">c</div>
<div class="t" style="left:193.65px;top:825.48px;font-size:60.43px;line-height:60.43px;color:#333333;transform:scaleX(1.0788);-webkit-text-stroke:1.0px currentColor;">t</div>
<div class="t" style="left:213.32px;top:825.48px;font-size:60.43px;line-height:60.43px;color:#333333;transform:scaleX(1.2000);-webkit-text-stroke:1.0px currentColor;">i</div>
<div class="t" style="left:225.98px;top:825.48px;font-size:60.43px;line-height:60.43px;color:#333333;transform:scaleX(1.1169);-webkit-text-stroke:1.0px currentColor;">v</div>
<div class="t" style="left:260.80px;top:825.48px;font-size:60.43px;line-height:60.43px;color:#333333;transform:scaleX(0.9717);-webkit-text-stroke:1.0px currentColor;">e</div>
<svg class="r" style="left:30px;top:916.60px" width="1110" height="130" viewBox="0 0 1110 130"><circle cx="28.5" cy="8" r="7.5" fill="#f4f4f4"/><circle cx="85.5" cy="8" r="7.5" fill="#f4f4f4"/><circle cx="142.5" cy="8" r="7.5" fill="#f4f4f4"/><circle cx="199.5" cy="8" r="7.5" fill="#f4f4f4"/><circle cx="256.5" cy="8" r="7.5" fill="#f4f4f4"/><circle cx="313.5" cy="8" r="7.5" fill="#f4f4f4"/><circle cx="370.5" cy="8" r="7.5" fill="#f4f4f4"/><circle cx="427.5" cy="8" r="7.5" fill="#f4f4f4"/><circle cx="484.5" cy="8" r="7.5" fill="#f4f4f4"/><circle cx="541.5" cy="8" r="7.5" fill="#f4f4f4"/><circle cx="598.5" cy="8" r="7.5" fill="#f4f4f4"/><circle cx="655.5" cy="8" r="7.5" fill="#f4f4f4"/><circle cx="712.5" cy="8" r="7.5" fill="#f4f4f4"/><circle cx="769.5" cy="8" r="7.5" fill="#f4f4f4"/><circle cx="826.5" cy="8" r="7.5" fill="#f4f4f4"/><circle cx="883.5" cy="8" r="7.5" fill="#f4f4f4"/><circle cx="940.5" cy="8" r="7.5" fill="#f4f4f4"/><circle cx="997.5" cy="8" r="7.5" fill="#f4f4f4"/><circle cx="1054.5" cy="8" r="7.5" fill="#f4f4f4"/><circle cx="1111.5" cy="8" r="7.5" fill="#f4f4f4"/><circle cx="28.5" cy="65" r="7.5" fill="#f4f4f4"/><circle cx="85.5" cy="65" r="7.5" fill="#f4f4f4"/><circle cx="142.5" cy="65" r="7.5" fill="#f4f4f4"/><circle cx="199.5" cy="65" r="7.5" fill="#f4f4f4"/><circle cx="256.5" cy="65" r="7.5" fill="#f4f4f4"/><circle cx="313.5" cy="65" r="7.5" fill="#f4f4f4"/><circle cx="370.5" cy="65" r="7.5" fill="#f4f4f4"/><circle cx="427.5" cy="65" r="7.5" fill="#f4f4f4"/><circle cx="484.5" cy="65" r="7.5" fill="#f4f4f4"/><circle cx="541.5" cy="65" r="7.5" fill="#f4f4f4"/><circle cx="598.5" cy="65" r="7.5" fill="#f4f4f4"/><circle cx="655.5" cy="65" r="7.5" fill="#f4f4f4"/><circle cx="712.5" cy="65" r="7.5" fill="#f4f4f4"/><circle cx="769.5" cy="65" r="7.5" fill="#f4f4f4"/><circle cx="826.5" cy="65" r="7.5" fill="#f4f4f4"/><circle cx="883.5" cy="65" r="7.5" fill="#f4f4f4"/><circle cx="940.5" cy="65" r="7.5" fill="#f4f4f4"/><circle cx="997.5" cy="65" r="7.5" fill="#f4f4f4"/><circle cx="1054.5" cy="65" r="7.5" fill="#f4f4f4"/><circle cx="1111.5" cy="65" r="7.5" fill="#f4f4f4"/><circle cx="28.5" cy="122" r="7.5" fill="#f4f4f4"/><circle cx="85.5" cy="122" r="7.5" fill="#f4f4f4"/><circle cx="142.5" cy="122" r="7.5" fill="#f4f4f4"/><circle cx="199.5" cy="122" r="7.5" fill="#f4f4f4"/><circle cx="256.5" cy="122" r="7.5" fill="#f4f4f4"/><circle cx="313.5" cy="122" r="7.5" fill="#f4f4f4"/><circle cx="370.5" cy="122" r="7.5" fill="#f4f4f4"/><circle cx="427.5" cy="122" r="7.5" fill="#f4f4f4"/><circle cx="484.5" cy="122" r="7.5" fill="#f4f4f4"/><circle cx="541.5" cy="122" r="7.5" fill="#f4f4f4"/><circle cx="598.5" cy="122" r="7.5" fill="#f4f4f4"/><circle cx="655.5" cy="122" r="7.5" fill="#f4f4f4"/><circle cx="712.5" cy="122" r="7.5" fill="#f4f4f4"/><circle cx="769.5" cy="122" r="7.5" fill="#f4f4f4"/><circle cx="826.5" cy="122" r="7.5" fill="#f4f4f4"/><circle cx="883.5" cy="122" r="7.5" fill="#f4f4f4"/><circle cx="940.5" cy="122" r="7.5" fill="#f4f4f4"/><circle cx="997.5" cy="122" r="7.5" fill="#f4f4f4"/><circle cx="1054.5" cy="122" r="7.5" fill="#f4f4f4"/><circle cx="1111.5" cy="122" r="7.5" fill="#f4f4f4"/></svg>
<div class="r" style="left:107.60px;top:987.30px;width:155.10px;height:56.20px;background:#fff;box-shadow:0 0 10px 5px #fff"></div>
<div class="r" style="left:370.60px;top:913.08px;width:161.20px;height:56.20px;background:#fff;box-shadow:0 0 10px 5px #fff"></div>
<div class="r" style="left:637.00px;top:888.34px;width:162.50px;height:56.20px;background:#fff;box-shadow:0 0 10px 5px #fff"></div>
<div class="r" style="left:903.20px;top:900.71px;width:162.00px;height:56.20px;background:#fff;box-shadow:0 0 10px 5px #fff"></div>
<div class="r" style="left:63px;top:1045.00px;width:245px;height:9.40px;background:#fff;box-shadow:0 0 8px 3px rgba(255,255,255,0.9)"></div>
<div class="r" style="left:63px;top:1045.00px;width:245px;height:9.4px;background:linear-gradient(90deg,#eec69e,#e4926c)"><div class="r" style="left:188.10px;top:0;width:44px;height:100%;background:linear-gradient(90deg,#e98e48,#dd5f2b)"></div></div>
<svg class="r" style="left:113.90px;top:999.50px" width="10.71" height="27.40" viewBox="0 0 11.1 28.4" preserveAspectRatio="none"><path d="M6.1 0 H11.1 V28.4 H6.8 V3.9 L0 8.7 V4.5 Z" fill="#333333"/></svg>
<div class="t" style="left:140.28px;top:994.61px;font-size:38.87px;line-height:38.87px;color:#333333;transform:scaleX(0.8938);-webkit-text-stroke:0.6px currentColor;">VOTES</div>
<div class="r" style="left:330px;top:970.78px;width:244px;height:83.62px;background:#fff;box-shadow:0 0 8px 3px rgba(255,255,255,0.9)"></div>
<div class="r" style="left:330px;top:970.78px;width:244px;height:9.4px;background:linear-gradient(90deg,#eec69e,#e4926c)"><div class="r" style="left:82.18px;top:0;width:44px;height:100%;background:linear-gradient(90deg,#e98e48,#dd5f2b)"></div></div>
<div class="r" style="left:330px;top:983.15px;width:244px;height:9.4px;background:linear-gradient(90deg,#eec69e,#e4926c)"><div class="r" style="left:152.46px;top:0;width:44px;height:100%;background:linear-gradient(90deg,#e98e48,#dd5f2b)"></div></div>
<div class="r" style="left:330px;top:995.52px;width:244px;height:9.4px;background:linear-gradient(90deg,#eec69e,#e4926c)"><div class="r" style="left:99.75px;top:0;width:44px;height:100%;background:linear-gradient(90deg,#e98e48,#dd5f2b)"></div></div>
<div class="r" style="left:330px;top:1007.89px;width:244px;height:9.4px;background:linear-gradient(90deg,#eec69e,#e4926c)"><div class="r" style="left:82.18px;top:0;width:44px;height:100%;background:linear-gradient(90deg,#e98e48,#dd5f2b)"></div></div>
<div class="r" style="left:330px;top:1020.26px;width:244px;height:9.4px;background:linear-gradient(90deg,#eec69e,#e4926c)"><div class="r" style="left:99.75px;top:0;width:44px;height:100%;background:linear-gradient(90deg,#e98e48,#dd5f2b)"></div></div>
<div class="r" style="left:330px;top:1032.63px;width:244px;height:9.4px;background:linear-gradient(90deg,#eec69e,#e4926c)"><div class="r" style="left:187.60px;top:0;width:44px;height:100%;background:linear-gradient(90deg,#e98e48,#dd5f2b)"></div></div>
<div class="r" style="left:330px;top:1045.00px;width:244px;height:9.4px;background:linear-gradient(90deg,#eec69e,#e4926c)"><div class="r" style="left:170.03px;top:0;width:44px;height:100%;background:linear-gradient(90deg,#e98e48,#dd5f2b)"></div></div>
<div class="t" style="left:374.46px;top:920.77px;font-size:38.87px;line-height:38.87px;color:#333333;transform:scaleX(1.0010);-webkit-text-stroke:0.6px currentColor;">7</div>
<div class="t" style="left:411.04px;top:920.42px;font-size:38.87px;line-height:38.87px;color:#333333;transform:scaleX(0.8838);-webkit-text-stroke:0.6px currentColor;">VOTES</div>
<div class="r" style="left:596px;top:946.04px;width:244px;height:108.36px;background:#fff;box-shadow:0 0 8px 3px rgba(255,255,255,0.9)"></div>
<div class="r" style="left:596px;top:946.04px;width:244px;height:9.4px;background:linear-gradient(90deg,#eec69e,#e4926c)"><div class="r" style="left:65.11px;top:0;width:44px;height:100%;background:linear-gradient(90deg,#e98e48,#dd5f2b)"></div></div>
<div class="r" style="left:596px;top:958.41px;width:244px;height:9.4px;background:linear-gradient(90deg,#eec69e,#e4926c)"><div class="r" style="left:29.97px;top:0;width:44px;height:100%;background:linear-gradient(90deg,#e98e48,#dd5f2b)"></div></div>
<div class="r" style="left:596px;top:970.78px;width:244px;height:9.4px;background:linear-gradient(90deg,#eec69e,#e4926c)"><div class="r" style="left:82.68px;top:0;width:44px;height:100%;background:linear-gradient(90deg,#e98e48,#dd5f2b)"></div></div>
<div class="r" style="left:596px;top:983.15px;width:244px;height:9.4px;background:linear-gradient(90deg,#eec69e,#e4926c)"><div class="r" style="left:188.10px;top:0;width:44px;height:100%;background:linear-gradient(90deg,#e98e48,#dd5f2b)"></div></div>
<div class="r" style="left:596px;top:995.52px;width:244px;height:9.4px;background:linear-gradient(90deg,#eec69e,#e4926c)"><div class="r" style="left:170.53px;top:0;width:44px;height:100%;background:linear-gradient(90deg,#e98e48,#dd5f2b)"></div></div>
<div class="r" style="left:596px;top:1007.89px;width:244px;height:9.4px;background:linear-gradient(90deg,#eec69e,#e4926c)"><div class="r" style="left:170.53px;top:0;width:44px;height:100%;background:linear-gradient(90deg,#e98e48,#dd5f2b)"></div></div>
<div class="r" style="left:596px;top:1020.26px;width:244px;height:9.4px;background:linear-gradient(90deg,#eec69e,#e4926c)"><div class="r" style="left:170.53px;top:0;width:44px;height:100%;background:linear-gradient(90deg,#e98e48,#dd5f2b)"></div></div>
<div class="r" style="left:596px;top:1032.63px;width:244px;height:9.4px;background:linear-gradient(90deg,#eec69e,#e4926c)"><div class="r" style="left:29.97px;top:0;width:44px;height:100%;background:linear-gradient(90deg,#e98e48,#dd5f2b)"></div></div>
<div class="r" style="left:596px;top:1045.00px;width:244px;height:9.4px;background:linear-gradient(90deg,#eec69e,#e4926c)"><div class="r" style="left:82.68px;top:0;width:44px;height:100%;background:linear-gradient(90deg,#e98e48,#dd5f2b)"></div></div>
<div class="t" style="left:641.41px;top:895.45px;font-size:38.87px;line-height:38.87px;color:#333333;transform:scaleX(1.1185);-webkit-text-stroke:0.6px currentColor;">9</div>
<div class="t" style="left:677.39px;top:895.45px;font-size:38.87px;line-height:38.87px;color:#333333;transform:scaleX(0.8930);-webkit-text-stroke:0.6px currentColor;">VOTES</div>
<div class="r" style="left:862px;top:958.41px;width:245px;height:95.99px;background:#fff;box-shadow:0 0 8px 3px rgba(255,255,255,0.9)"></div>
<div class="r" style="left:862px;top:958.41px;width:245px;height:9.4px;background:linear-gradient(90deg,#eec69e,#e4926c)"><div class="r" style="left:135.89px;top:0;width:44px;height:100%;background:linear-gradient(90deg,#e98e48,#dd5f2b)"></div></div>
<div class="r" style="left:862px;top:970.78px;width:245px;height:9.4px;background:linear-gradient(90deg,#eec69e,#e4926c)"><div class="r" style="left:30.47px;top:0;width:44px;height:100%;background:linear-gradient(90deg,#e98e48,#dd5f2b)"></div></div>
<div class="r" style="left:862px;top:983.15px;width:245px;height:9.4px;background:linear-gradient(90deg,#eec69e,#e4926c)"><div class="r" style="left:135.89px;top:0;width:44px;height:100%;background:linear-gradient(90deg,#e98e48,#dd5f2b)"></div></div>
<div class="r" style="left:862px;top:995.52px;width:245px;height:9.4px;background:linear-gradient(90deg,#eec69e,#e4926c)"><div class="r" style="left:12.90px;top:0;width:44px;height:100%;background:linear-gradient(90deg,#e98e48,#dd5f2b)"></div></div>
<div class="r" style="left:862px;top:1007.89px;width:245px;height:9.4px;background:linear-gradient(90deg,#eec69e,#e4926c)"><div class="r" style="left:12.90px;top:0;width:44px;height:100%;background:linear-gradient(90deg,#e98e48,#dd5f2b)"></div></div>
<div class="r" style="left:862px;top:1020.26px;width:245px;height:9.4px;background:linear-gradient(90deg,#eec69e,#e4926c)"><div class="r" style="left:118.32px;top:0;width:44px;height:100%;background:linear-gradient(90deg,#e98e48,#dd5f2b)"></div></div>
<div class="r" style="left:862px;top:1032.63px;width:245px;height:9.4px;background:linear-gradient(90deg,#eec69e,#e4926c)"><div class="r" style="left:100.75px;top:0;width:44px;height:100%;background:linear-gradient(90deg,#e98e48,#dd5f2b)"></div></div>
<div class="r" style="left:862px;top:1045.00px;width:245px;height:9.4px;background:linear-gradient(90deg,#eec69e,#e4926c)"><div class="r" style="left:171.03px;top:0;width:44px;height:100%;background:linear-gradient(90deg,#e98e48,#dd5f2b)"></div></div>
<div class="t" style="left:908.27px;top:908.29px;font-size:38.87px;line-height:38.87px;color:#333333;transform:scaleX(1.0618);-webkit-text-stroke:0.6px currentColor;">8</div>
<div class="t" style="left:943.54px;top:908.29px;font-size:38.87px;line-height:38.87px;color:#333333;transform:scaleX(0.8923);-webkit-text-stroke:0.6px currentColor;">VOTES</div>
<div class="r" style="left:30px;top:1057px;width:1110px;height:3px;background:#bbbbbb"></div>
<div class="t" style="left:128.76px;top:1073.52px;font-size:36.20px;line-height:36.20px;color:#999999;transform:scaleX(1.1166);-webkit-text-stroke:0.6px currentColor;">0</div>
<div class="t" style="left:157.61px;top:1072.90px;font-size:42.19px;line-height:42.19px;color:#999999;transform:scaleX(0.8888);-webkit-text-stroke:0.6px currentColor;">/</div>
<div class="t" style="left:177.42px;top:1073.52px;font-size:36.20px;line-height:36.20px;color:#999999;transform:scaleX(0.9962);-webkit-text-stroke:0.6px currentColor;">NO</div>
<svg class="r" style="left:325.00px;top:1077.90px" width="10.04" height="25.70" viewBox="0 0 11.1 28.4" preserveAspectRatio="none"><path d="M6.1 0 H11.1 V28.4 H6.8 V3.9 L0 8.7 V4.5 Z" fill="#999999"/></svg>
<div class="t" style="left:345.90px;top:1072.90px;font-size:42.19px;line-height:42.19px;color:#999999;transform:scaleX(0.9481);-webkit-text-stroke:0.6px currentColor;">/</div>
<div class="t" style="left:365.76px;top:1073.52px;font-size:36.20px;line-height:36.20px;color:#999999;transform:scaleX(1.0059);-webkit-text-stroke:0.6px currentColor;">SOMEWHAT</div>
<div class="t" style="left:665.73px;top:1073.34px;font-size:36.20px;line-height:36.20px;color:#999999;transform:scaleX(1.0390);-webkit-text-stroke:0.6px currentColor;">2</div>
<div class="t" style="left:693.23px;top:1072.90px;font-size:42.19px;line-height:42.19px;color:#999999;transform:scaleX(0.8888);-webkit-text-stroke:0.6px currentColor;">/</div>
<div class="t" style="left:713.62px;top:1073.52px;font-size:36.20px;line-height:36.20px;color:#999999;transform:scaleX(0.9419);-webkit-text-stroke:0.6px currentColor;">YES</div>
<div class="t" style="left:918.66px;top:1073.87px;font-size:36.20px;line-height:36.20px;color:#999999;transform:scaleX(1.0933);-webkit-text-stroke:0.6px currentColor;">3</div>
<div class="t" style="left:948.04px;top:1072.90px;font-size:42.19px;line-height:42.19px;color:#999999;transform:scaleX(0.9311);-webkit-text-stroke:0.6px currentColor;">/</div>
<div class="t" style="left:967.29px;top:1073.52px;font-size:36.20px;line-height:36.20px;color:#999999;transform:scaleX(0.9488);-webkit-text-stroke:0.6px currentColor;">VERY</div>
</body></html>
